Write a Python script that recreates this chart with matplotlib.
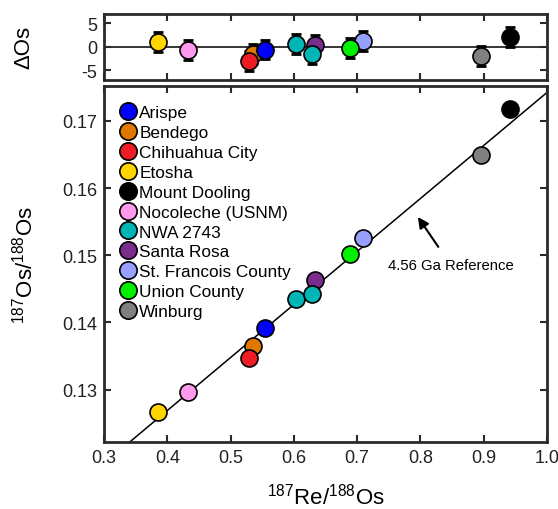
import matplotlib
matplotlib.use("Agg")
import matplotlib.pyplot as plt
import numpy as np

plt.rcParams['font.family'] = ['Liberation Sans', 'DejaVu Sans']
plt.rcParams['mathtext.fontset'] = 'custom'
plt.rcParams['mathtext.rm'] = 'Liberation Sans'
plt.rcParams['mathtext.it'] = 'Liberation Sans:italic'
plt.rcParams['mathtext.bf'] = 'Liberation Sans:bold'
plt.rcParams['axes.unicode_minus'] = False

# ---- data ----
names = ["Arispe", "Bendego", "Chihuahua City", "Etosha", "Mount Dooling",
         "Nocoleche (USNM)", "NWA 2743", "Santa Rosa", "St. Francois County",
         "Union County", "Winburg"]
colors = ["#0000ff", "#e07800", "#ee1c24", "#ffd500", "#000000",
          "#ff99ee", "#00b5b5", "#7a2d8c", "#98a0ff", "#00f000", "#808080"]
# 187Re/188Os for each sample (NWA 2743 has two analyses)
re_os = [[0.554], [0.535], [0.529], [0.385], [0.942], [0.433],
         [0.603, 0.628], [0.633], [0.710], [0.688], [0.896]]
# 187Os/188Os
os_os = [[0.1391], [0.1365], [0.1347], [0.1267], [0.1718], [0.1297],
         [0.1435, 0.1442], [0.1463], [0.1525], [0.1502], [0.1650]]
# Delta Os (deviation from the isochron)
delta_os = [[-0.6], [-1.5], [-3.0], [1.0], [2.0], [-0.7],
            [0.6, -1.5], [0.3], [1.2], [-0.3], [-1.9]]
delta_err = 2.1

ref_intercept = 0.09531
ref_slope = 0.07893
ref_label = "4.56 Ga Reference"

xticks = [0.3, 0.4, 0.5, 0.6, 0.7, 0.8, 0.9, 1.0]
yticks = [0.13, 0.14, 0.15, 0.16, 0.17]
dticks = [-5, 0, 5]

spine_c = "#2a2a2a"
fig = plt.figure(figsize=(5.58, 5.10), dpi=100)
ax_top = fig.add_axes([0.1864, 0.8418, 0.7939, 0.1294])
ax = fig.add_axes([0.1864, 0.1314, 0.7939, 0.6980])

for a in (ax, ax_top):
    for s in a.spines.values():
        s.set_linewidth(2.0)
        s.set_color(spine_c)
    a.tick_params(direction='in', length=5, width=1.5, color=spine_c,
                  top=True, right=True, labelsize=13, labelcolor='#222222', pad=5)

# reference line
xr = np.array([0.3, 1.0])
ax.plot(xr, ref_intercept + ref_slope * xr, color='black', lw=1.1, zorder=1)
ax_top.axhline(0, color='black', lw=1.1, zorder=1)

order = [1, 0, 2, 3, 4, 5, 7, 6, 8, 9, 10]
for i in order:
    ax.scatter(re_os[i], os_os[i], s=150, c=colors[i], edgecolors='black',
               linewidths=1.2, zorder=3)
    ax_top.errorbar(re_os[i], delta_os[i], yerr=delta_err, fmt='none',
                    ecolor='black', elinewidth=2, capsize=3.5, capthick=2, zorder=2)
    ax_top.scatter(re_os[i], delta_os[i], s=150, c=colors[i], edgecolors='black',
                   linewidths=1.2, zorder=3)

# legend handles
handles = [plt.Line2D([], [], ls='none', marker='o', markersize=12.5,
                      markerfacecolor=c, markeredgecolor='black', markeredgewidth=1.2)
           for c in colors]
leg = ax.legend(handles, names, loc='upper left', frameon=False, fontsize=12.4,
                handletextpad=0.15, labelspacing=0.28, borderaxespad=0.3,
                handlelength=1.0, bbox_to_anchor=(0.008, 0.98))

ax.set_xlim(0.3, 1.0)
ax.set_ylim(0.1222, 0.1752)
ax.set_xticks(xticks)
ax.set_xticklabels([f"{v:.1f}" for v in xticks])
ax.set_yticks(yticks)
ax.set_yticklabels([f"{v:.2f}" for v in yticks])
ax.set_xlabel(r"$^{187}$Re/$^{188}$Os", fontsize=16, labelpad=12)
ax.set_ylabel(r"$^{187}$Os/$^{188}$Os", fontsize=16)
ax.yaxis.set_label_coords(-0.15, 0.5)

ax_top.set_xlim(0.3, 1.0)
ax_top.set_ylim(-7, 7)
ax_top.set_xticks(xticks)
ax_top.set_xticklabels([])
ax_top.set_yticks(dticks)
ax_top.set_ylabel("\u0394Os", fontsize=16)
ax_top.yaxis.set_label_coords(-0.158, 0.5)

ax.annotate(ref_label, xy=(0.796, 0.1557), xytext=(0.8474, 0.1486),
            fontsize=10.7, ha='center', va='center',
            arrowprops=dict(arrowstyle='-|>', color='black', lw=1.5,
                            mutation_scale=16, shrinkA=7, shrinkB=0))

fig.savefig("out.png", dpi=100)
